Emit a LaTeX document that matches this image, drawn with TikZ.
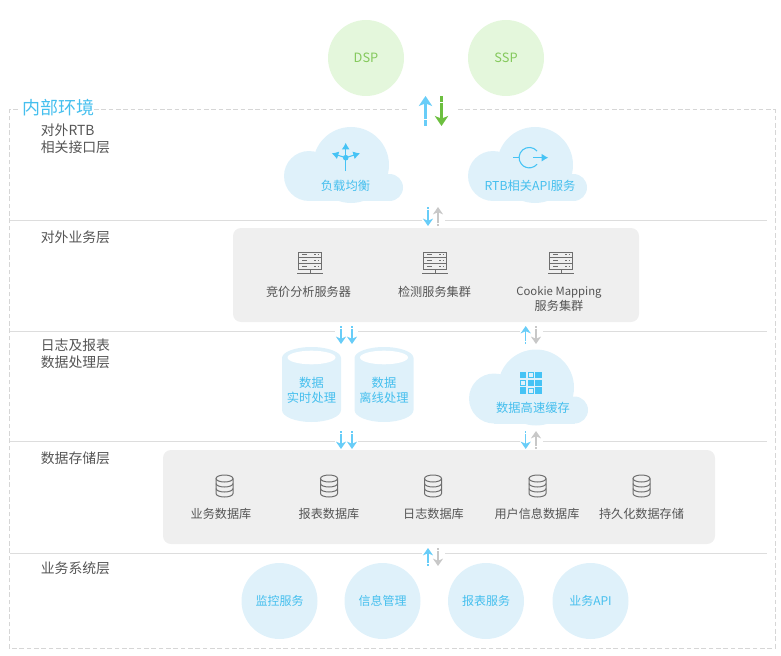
\documentclass[tikz,border=0pt]{standalone}
\usepackage{fontspec}
\setmainfont{Noto Sans CJK SC}
\usetikzlibrary{arrows.meta}
\definecolor{skyfill}{HTML}{DFF1FA}
\definecolor{skytext}{HTML}{45BFEE}
\definecolor{skyicon}{HTML}{45C3F5}
\definecolor{flowblue}{HTML}{68CDF8}
\definecolor{flowgrey}{HTML}{C8C8C8}
\definecolor{flowgreen}{HTML}{6CBF3F}
\definecolor{greenfill}{HTML}{E4F7DC}
\definecolor{greentext}{HTML}{84C95C}
\definecolor{panelgrey}{HTML}{EFEFEF}
\definecolor{rulegrey}{HTML}{DDDDDD}
\definecolor{framegrey}{HTML}{D6D6D6}
\definecolor{labelgrey}{HTML}{555555}
\definecolor{icongrey}{HTML}{6E6E6E}
\tikzstyle{bubble} = [circle, fill=skyfill, text=skytext, minimum size=57pt, inner sep=0pt, font=\fontsize{9pt}{11pt}\selectfont]
\tikzstyle{greenbubble} = [bubble, fill=greenfill, text=greentext, font=\fontsize{9.6pt}{11pt}\selectfont]
\tikzstyle{panel} = [fill=panelgrey, rounded corners=6pt]
\tikzstyle{layertext} = [anchor=west, text=labelgrey, inner sep=0pt, font=\fontsize{10.4pt}{12.6pt}\selectfont, align=left]
\tikzstyle{itemtext} = [text=labelgrey, inner sep=0pt, font=\fontsize{9.1pt}{10.8pt}\selectfont, align=center]
\tikzstyle{skytextnode} = [text=skytext, inner sep=0pt, font=\fontsize{9.2pt}{11.2pt}\selectfont, align=center]
\tikzstyle{layerrule} = [draw=rulegrey, line width=0.75pt]
\tikzstyle{gapbox} = [fill=white, minimum width=17.5pt, minimum height=10pt, inner sep=0pt]
\tikzstyle{flow} = [line width=1.1pt, dash pattern=on 1.5pt off 0.4pt on 1.5pt off 0.4pt on 40pt, -{Stealth[length=5.5pt,width=7.5pt,inset=1.6pt]}]
\tikzstyle{bigflow} = [line width=1.8pt, dash pattern=on 2pt off 0.5pt on 2pt off 0.5pt on 40pt, -{Stealth[length=7.5pt,width=10pt,inset=2pt]}]

\newcommand{\cloudshape}[2]{
\begin{scope}[shift={(#1,#2)}]
 \fill[skyfill] (67,38) circle (38);
 \fill[skyfill] (25,49) circle (25);
 \fill[skyfill] (105.5,60.5) circle (13.5);
 \fill[skyfill] (25,48) rectangle (106,74);
\end{scope}}
\newcommand{\serverico}[1]{
\begin{scope}[shift={(#1,262)}, draw=icongrey, line width=0.75pt]
 \draw (-11.5,-10) rectangle (11.5,7);
 \draw (-11.5,-4.5) -- (11.5,-4.5) (-11.5,1) -- (11.5,1);
 \foreach \y in {-7.2,-1.7,4} {
  \draw (-8,\y) -- (-3,\y);
  \draw (4,\y) -- (5.5,\y) (7.5,\y) -- (9,\y);
 }
 \draw (0,7) -- (0,11) (-13,11) -- (13,11);
\end{scope}}
\newcommand{\dbico}[1]{
\begin{scope}[shift={(#1,486)}, draw=icongrey, line width=0.75pt]
 \draw (0,-7.5) ellipse (8.5 and 3.5);
 \draw (-8.5,-7.5) -- (-8.5,7.5) arc (180:0:8.5 and 3.5) -- (8.5,-7.5);
 \draw (-8.5,-2.5) arc (180:0:8.5 and 3.5);
 \draw (-8.5,2.5) arc (180:0:8.5 and 3.5);
\end{scope}}
\newcommand{\drumshape}[1]{
\begin{scope}[shift={(#1,0)}]
 \fill[skyfill] (-29.5,358) -- (-29.5,410) arc (180:0:29.5 and 12) -- (29.5,358) arc (0:-180:29.5 and 11);
 \fill[white] (0,357.5) ellipse (24 and 6.8);
\end{scope}}
\newcommand{\flowarrow}[6][flow]{
 \coordinate (#2t) at (#3,#4);
 \coordinate (#2h) at (#3,#5);
 \draw[#1, draw=#6, #6] (#2t) -- (#2h);
}

\begin{document}
\begin{tikzpicture}[x=0.75pt, y=-0.75pt]
\useasboundingbox (0,0) rectangle (781,656);

% outer frame
\draw[framegrey, line width=0.75pt, dash pattern=on 3.5pt off 2pt] (94,110) -- (408,110);
\draw[framegrey, line width=0.75pt, dash pattern=on 3.5pt off 2pt] (458,110) -- (775,110) -- (775,648) -- (9,648) -- (9,110) -- (20,110);
\node[anchor=west, text=skytext, inner sep=0pt, font=\fontsize{13.5pt}{16pt}\selectfont] (inner) at (22,108) {内部环境};

% layer rules
\foreach \y in {220,331,441,553} {
 \draw[layerrule] (10,\y) -- (767,\y);
}
\node[gapbox] (gapa) at (433.5,220) {};
\node[gapbox] (gapb) at (346.5,331) {};
\node[gapbox] (gapc) at (531.5,331) {};
\node[gapbox] (gapd) at (346.5,441) {};
\node[gapbox] (gape) at (531.5,441) {};
\node[gapbox] (gapf) at (433.5,553) {};

\node[layertext] (rtb) at (40.5,138.5) {对外RTB\\相关接口层};
\node[layertext] (biz) at (40.5,237) {对外业务层};
\node[layertext] (log) at (40.5,353.5) {日志及报表\\数据处理层};
\node[layertext] (store) at (40.5,458) {数据存储层};
\node[layertext] (sys) at (40.5,568) {业务系统层};

\node[greenbubble, name=dsp] at (366,58) {DSP};
\node[greenbubble, name=ssp] at (506,58) {SSP};

\flowarrow[bigflow]{upa}{425.5}{126}{96}{flowblue}
\flowarrow[bigflow]{downa}{441.5}{96}{126}{flowgreen}

% clouds
\cloudshape{284}{127}
\cloudshape{468}{127}
\cloudshape{469}{349.5}
\node[skytextnode, name=balance] at (345.5,186) {负载均衡};
\node[skytextnode, name=rtbapi] at (530,186) {RTB相关API服务};
\node[skytextnode, name=cache] at (533,408) {数据高速缓存};

\begin{scope}[skyicon, line width=0.8pt]
 \coordinate (lb) at (345.7,157.7);
 \fill (lb) circle (2.8);
 \draw[-{Latex[length=5pt,width=6pt]}] (345.7,171) -- (345.7,142.7);
 \draw[-{Latex[length=5pt,width=6pt]}] (lb) -- (331.7,153.3);
 \draw[-{Latex[length=5pt,width=6pt]}] (lb) -- (360,153.3);
 \draw (513.3,157.7) -- (519.1,157.7);
 \draw (537.1,151.1) arc (-40:-320:10.2);
 \draw[-{Latex[length=5pt,width=6pt]}] (533.3,157.7) -- (548.3,157.7);
\end{scope}

\foreach \col/\row/\kind in {0/0/1,1/0/0,2/0/1,0/1/0,1/1/1,2/1/1,0/2/1,1/2/0,2/2/1} {
 \ifnum\kind=1
  \fill[skyicon] (520+7.7*\col,372+7.7*\row) rectangle ++(6.4,6.4);
 \else
  \draw[skyicon, line width=0.7pt] (520.6+7.7*\col,372.6+7.7*\row) rectangle ++(5.2,5.2);
 \fi
}

\flowarrow{downb}{428}{207}{226}{flowblue}
\flowarrow{upb}{438}{226}{207}{flowgrey}

% service panel
\fill[panel] (233,228) rectangle (639,322);
\serverico{310}
\serverico{435}
\serverico{561}
\node[itemtext, name=bidding] at (308.5,292) {竞价分析服务器};
\node[itemtext, name=detect] at (434.5,292) {检测服务集群};
\node[itemtext, name=mapping] at (559,299) {{\fontsize{8.5pt}{10.8pt}\selectfont Cookie Mapping}\\服务集群};

\flowarrow{downc}{341}{326}{344}{flowblue}
\flowarrow{downd}{352}{326}{344}{flowblue}
\flowarrow{upc}{525.7}{344}{326}{flowblue}
\flowarrow{downe}{536}{326}{344}{flowgrey}

% log layer
\drumshape{311.5}
\drumshape{384}
\node[skytextnode, name=realtime] at (311.5,390.5) {数据\\实时处理};
\node[skytextnode, name=offline] at (384,390.5) {数据\\离线处理};

\flowarrow{downf}{341}{431}{449}{flowblue}
\flowarrow{downg}{352}{431}{449}{flowblue}
\flowarrow{downh}{525.7}{431}{449}{flowblue}
\flowarrow{upd}{536}{449}{431}{flowgrey}

% storage panel
\fill[panel] (163,450) rectangle (715,544);
\foreach \x in {224.5,329,433,537.5,641.5} {
 \dbico{\x}
}
\node[itemtext, name=dba] at (221,514) {业务数据库};
\node[itemtext, name=dbb] at (329,514) {报表数据库};
\node[itemtext, name=dbc] at (433.5,514) {日志数据库};
\node[itemtext, name=dbd] at (537,514) {用户信息数据库};
\node[itemtext, name=dbe] at (641.5,514) {持久化数据存储};

\flowarrow{upe}{428}{566}{548}{flowblue}
\flowarrow{downi}{438}{548}{566}{flowgrey}

\node[bubble, name=monitor] at (279.5,601) {监控服务};
\node[bubble, name=info] at (382.5,601) {信息管理};
\node[bubble, name=report] at (486,601) {报表服务};
\node[bubble, name=api] at (590.5,601) {业务API};

\end{tikzpicture}
\end{document}
